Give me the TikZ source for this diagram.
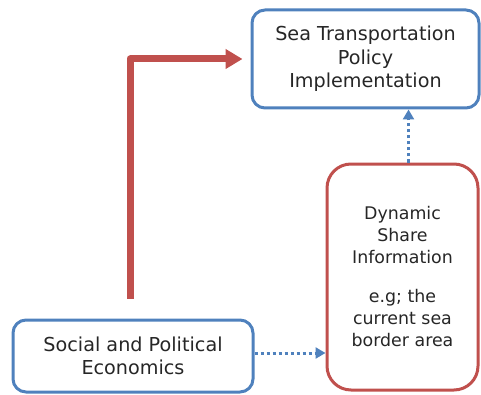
\documentclass[tikz,border=0pt]{standalone}
\usepackage{fontspec}
\setmainfont{DejaVu Sans}
\usetikzlibrary{arrows.meta,positioning}
\definecolor{boxblue}{HTML}{4F81BD}
\definecolor{boxred}{HTML}{C0504D}
\definecolor{txtgray}{HTML}{262626}
\begin{document}
\begin{tikzpicture}[x=1pt,y=1pt,line join=round,
  box/.style={draw=boxblue,line width=3pt,rounded corners=13pt,align=center,text=txtgray,inner sep=0pt,font=\fontsize{19.2}{23.5}\selectfont},
  sharebox/.style={box,draw=boxred,rounded corners=24pt,font=\fontsize{17.4}{22}\selectfont},
  flow/.style={boxred,line width=7pt,-{Triangle[length=17pt,width=19pt]}},
  link/.style={boxblue,line width=3pt,dash pattern=on 3pt off 3pt,-{Triangle[length=10pt,width=11pt]}}]
\useasboundingbox (0,0) rectangle (481,394);
\node[box,minimum width=227,minimum height=98] (policy) at (365.5,335) {Sea Transportation\\Policy\\Implementation};
\node[box,minimum width=240,minimum height=72] (social) at (133,38) {Social and Political\\Economics};
\node[sharebox,minimum width=151,minimum height=226] (share) at (402.5,117) {Dynamic\\Share\\Information\\[17pt]e.g; the\\current sea\\border area};
\draw[flow] ([xshift=-3pt,yshift=20pt]social.north) |- ([xshift=-8pt]policy.west);
\draw[link] ([yshift=3pt]social.east) -- ([yshift=3pt]share.west |- social.east);
\draw[link] ([xshift=6pt]share.north) -- ([xshift=6pt]share.north |- policy.south);
\end{tikzpicture}
\end{document}
